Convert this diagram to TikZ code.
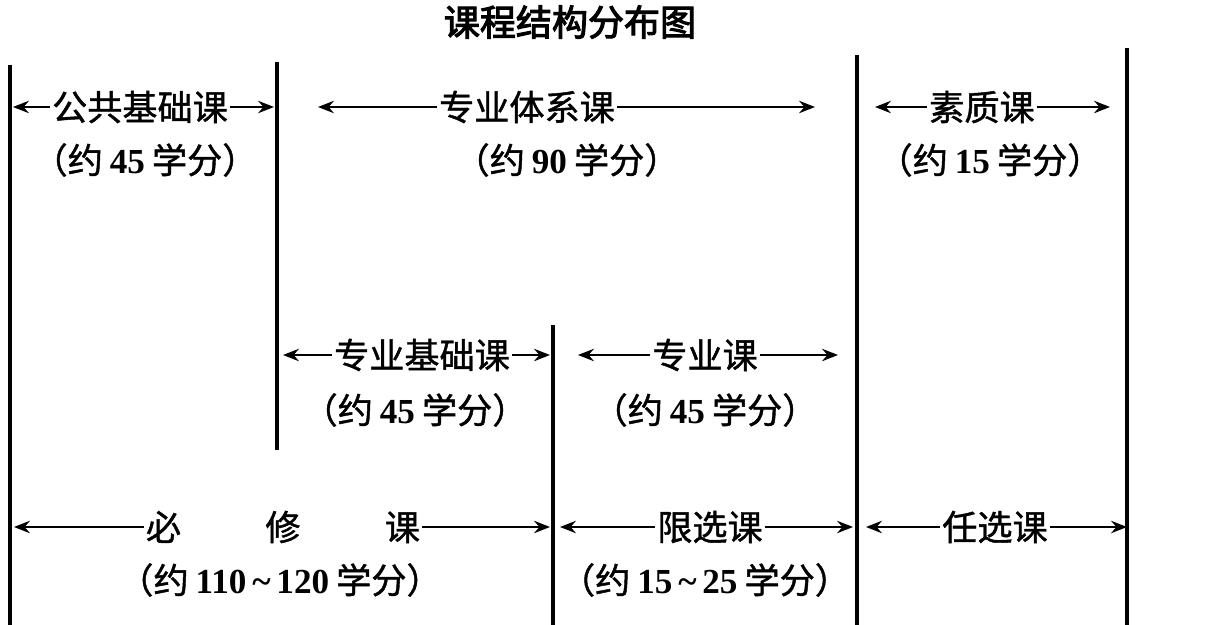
\documentclass[tikz,border=0pt]{standalone}
\usepackage{fontspec}
\setmainfont{Liberation Serif}
\newfontfamily\cjk{Noto Sans CJK SC}[FakeBold=1.2]
\newfontfamily\cjkb{Noto Sans CJK SC}[FakeBold=3]
\usetikzlibrary{arrows.meta}

\newcommand\xuefen[1]{（约\hspace{0.2em}{\rmfamily\bfseries #1}\hspace{0.2em}学分）}

\tikzset{
  ->/.style={draw=black,line width=1.4pt,-{Stealth[length=9pt,width=7pt]}},
  wall/.style={draw=black,line width=2pt}
}
\tikzstyle{every node}=[font=\cjk\fontsize{20}{24}\selectfont,inner sep=1pt]

\begin{document}
\begin{tikzpicture}[x=0.02cm,y=-0.02cm]
    \useasboundingbox (0,0) rectangle (1217,625);
    \node[font=\cjkb\fontsize{20.5}{24}\selectfont] (title) at (570,22) {课程结构分布图};

    % vertical division lines
    \coordinate (v1t) at (10,65);    \coordinate (v1b) at (10,625);
    \coordinate (v2t) at (277,62);   \coordinate (v2b) at (277,450);
    \coordinate (v3t) at (553,325);  \coordinate (v3b) at (553,625);
    \coordinate (v4t) at (857,55);   \coordinate (v4b) at (857,625);
    \coordinate (v5t) at (1127,48);  \coordinate (v5b) at (1127,625);
    \draw[wall] (v1t) -- (v1b);
    \draw[wall] (v2t) -- (v2b);
    \draw[wall] (v3t) -- (v3b);
    \draw[wall] (v4t) -- (v4b);
    \draw[wall] (v5t) -- (v5b);

    % top row
    \node (ggk) at (140,107) {公共基础课};
    \node (txk) at (527,107) {专业体系课};
    \node (szk) at (982,107) {素质课};
    \coordinate (ggk-l) at (13,107);  \coordinate (ggk-r) at (274,107);
    \coordinate (txk-l) at (318,107); \coordinate (txk-r) at (815,107);
    \coordinate (szk-l) at (875,107); \coordinate (szk-r) at (1110,107);
    \draw[->] (ggk.west) -- (ggk-l);
    \draw[->] (ggk.east) -- (ggk-r);
    \draw[->] (txk.west) -- (txk-l);
    \draw[->] (txk.east) -- (txk-r);
    \draw[->] (szk.west) -- (szk-l);
    \draw[->] (szk.east) -- (szk-r);
    \node (ggx) at (145,160) {\xuefen{45}};
    \node (txx) at (567,160) {\xuefen{90}};
    \node (szx) at (990,160) {\xuefen{15}};

    % middle row
    \node (jck) at (422,355) {专业基础课};
    \node (zyk) at (705,355) {专业课};
    \coordinate (jck-l) at (283,355); \coordinate (jck-r) at (550,355);
    \coordinate (zyk-l) at (578,355); \coordinate (zyk-r) at (838,355);
    \draw[->] (jck.west) -- (jck-l);
    \draw[->] (jck.east) -- (jck-r);
    \draw[->] (zyk.west) -- (zyk-l);
    \draw[->] (zyk.east) -- (zyk-r);
    \node (jcx) at (415,410) {\xuefen{45}};
    \node (zyx) at (705,410) {\xuefen{45}};

    % bottom row
    \node (bxk) at (283,527) {必\hspace{2.4em}修\hspace{2.4em}课};
    \node (xxk) at (710,527) {限选课};
    \node (rxk) at (995,527) {任选课};
    \coordinate (bxk-l) at (14,527);  \coordinate (bxk-r) at (550,527);
    \coordinate (xxk-l) at (560,527); \coordinate (xxk-r) at (853,527);
    \coordinate (rxk-l) at (866,527); \coordinate (rxk-r) at (1127,527);
    \draw[->] (bxk.west) -- (bxk-l);
    \draw[->] (bxk.east) -- (bxk-r);
    \draw[->] (xxk.west) -- (xxk-l);
    \draw[->] (xxk.east) -- (xxk-r);
    \draw[->] (rxk.west) -- (rxk-l);
    \draw[->] (rxk.east) -- (rxk-r);
    \node (bxx) at (280,580) {\xuefen{110\,\textasciitilde\,120}};
    \node (xxx) at (705,580) {\xuefen{15\,\textasciitilde\,25}};
\end{tikzpicture}
\end{document}
